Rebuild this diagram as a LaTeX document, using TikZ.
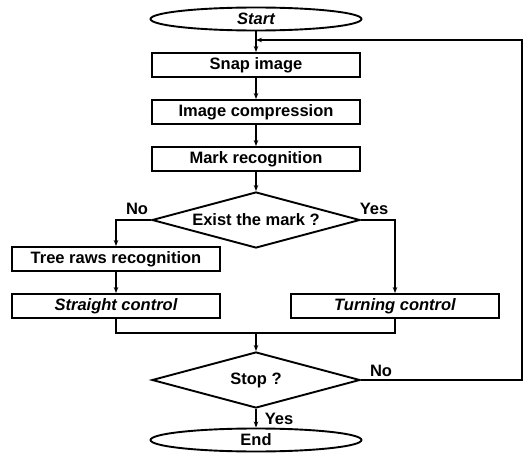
\documentclass[tikz,border=0pt]{standalone}
\usepackage{fontspec}
\setmainfont{Liberation Sans}
\usetikzlibrary{shapes.geometric, arrows.meta}

\begin{document}
\begin{tikzpicture}
        [x=1pt,y=-1pt,line width=1.9pt,
         every node/.style={font=\fontsize{16.5}{19}\selectfont\bfseries,inner sep=0},
         terminal/.style={draw,shape=ellipse,minimum width=211pt,minimum height=23pt},
         box/.style={draw,shape=rectangle,minimum width=208pt,minimum height=24pt},
         test/.style={draw,shape=diamond,aspect=3.7,minimum width=208pt,minimum height=56pt},
         arr/.style={-{Stealth[length=6pt,width=4.5pt]}}]

        \useasboundingbox (0,0) rectangle (523,455);

        \node[terminal] (start) at (256, 19) {\itshape Start};
        \node[box] (snap) at (256, 65) {Snap image};
        \node[box] (comp) at (256, 112) {Image compression};
        \node[box] (mark) at (256, 159) {Mark recognition};
        \node[test] (exist) at (256, 220) {Exist the mark ?};
        \node[box] (tree) at (116, 259) {Tree raws recognition};
        \node[box] (straight) at (116, 306) {\itshape Straight control};
        \node[box] (turning) at (395, 306) {\itshape Turning control};
        \node[test] (stop) at (256, 380) {Stop ?};
        \node[terminal] (end) at (256, 440) {End};

        \node (no1) at (137, 209) {No};
        \node (yes1) at (374, 209) {Yes};
        \node (no2) at (381, 371) {No};
        \node (yes2) at (279, 419) {Yes};

        \coordinate (loopin) at (256, 40);
        \coordinate (merge) at (256, 333);
        \coordinate (rc) at (522, 380);

        \draw[arr] (start) -- (snap);
        \draw[arr] (snap) -- (comp);
        \draw[arr] (comp) -- (mark);
        \draw[arr] (mark) -- (exist);
        \draw[arr] (exist.west) -| (tree.north);
        \draw[arr] (exist.east) -| (turning.north);
        \draw[arr] (tree) -- (straight);
        \draw (straight.south) |- (merge) -| (turning.south);
        \draw[arr] (merge) -- (stop.north);
        \draw[arr] (stop) -- (end);
        \draw[arr,line width=1.5pt] (stop.east) -- (rc) |- (loopin);

      \end{tikzpicture}
\end{document}
